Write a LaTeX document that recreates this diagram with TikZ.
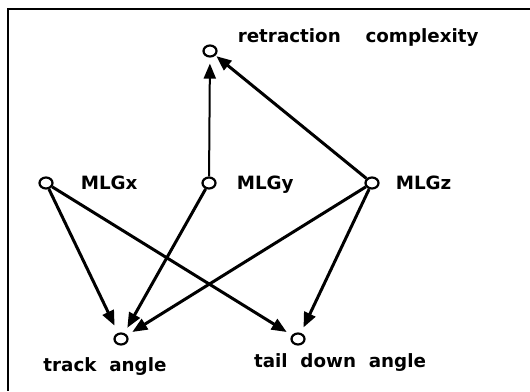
\documentclass[tikz,border=0pt]{standalone}
\usepackage{fontspec}
\setmainfont{DejaVu Sans}[WordSpace=2]
\usetikzlibrary{arrows.meta,positioning,shapes.geometric}

\begin{document}
\begin{tikzpicture}[x=1pt, y=-1pt,
  var/.style={ellipse, draw, line width=2.2pt, minimum width=13pt,
              minimum height=11pt, inner sep=0pt},
  lbl/.style={font=\fontsize{18.3}{22}\selectfont\bfseries, inner sep=0pt,
              text height=13.3pt, text depth=0pt},
  link/.style={-{Triangle[length=15pt,width=12pt]}, line width=3pt,
               shorten >=6pt}
]
  \useasboundingbox (0,0) rectangle (530,391);
  \draw[line width=2.6pt] (530,9) -- (8,9) -- (8,391);

  \node[var] (ret) at (210,51)  {};
  \node[var] (mx)  at (46,183)  {};
  \node[var] (my)  at (209,183) {};
  \node[var] (mz)  at (372,183) {};
  \node[var] (ta)  at (121,339) {};
  \node[var] (td)  at (298,339) {};

  \node[lbl, right=20pt of ret, yshift=15pt] (retl) {retraction\hspace{12pt} complexity};
  \node[lbl, right=27pt of mx] (mxl) {MLGx};
  \node[lbl, right=20pt of my] (myl) {MLGy};
  \node[lbl, right=16pt of mz] (mzl) {MLGz};
  \node[lbl, below=12pt of ta, xshift=-16pt] (tal) {track angle};
  \node[lbl, below=8pt of td, xshift=42pt]   (tdl) {tail down angle};

  \draw[link, line width=2pt] (my) -- (ret);
  \draw[link, shorten >=1pt] (mz) -- (ret);
  \draw[link, shorten >=8pt] (mx) -- (ta);
  \draw[link] (my) -- (ta);
  \draw[link] (mz) -- (ta);
  \draw[link] (mx) -- (td);
  \draw[link] (mz) -- (td);
\end{tikzpicture}
\end{document}
